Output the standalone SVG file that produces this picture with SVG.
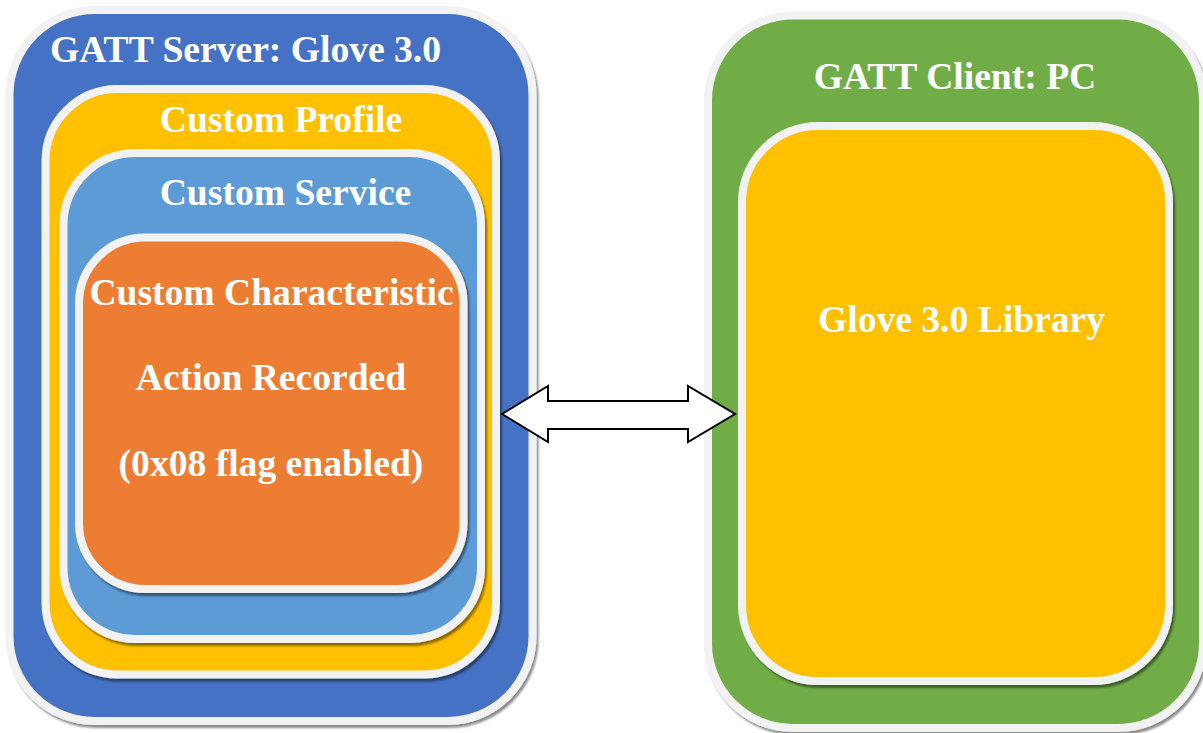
<svg xmlns="http://www.w3.org/2000/svg" width="1203" height="733" viewBox="0 0 1203 733">
  <defs>
    <filter id="sh" x="-5%" y="-5%" width="110%" height="110%">
      <feDropShadow dx="2" dy="3" stdDeviation="0.8" flood-color="#000" flood-opacity="0.45"/>
    </filter>
    <style>
      .box { stroke: #F2F2F2; stroke-width: 8; filter: url(#sh); }
      .t { font-family: "Liberation Serif", "Times New Roman", serif; font-weight: bold; fill: #FFFFFF; font-size: 37.6px; }
      .c { text-anchor: middle; }
    </style>
  </defs>
  <rect width="1203" height="733" fill="#FFFFFF"/>

  <g id="gatt-server">
    <rect class="box" x="9.5" y="10" width="523" height="711" rx="85" ry="85" fill="#4472C4"/>
    <text class="t" x="50" y="62">GATT Server: Glove 3.0</text>
  </g>

  <g id="custom-profile">
    <rect class="box" x="45.5" y="89" width="450.5" height="585.5" rx="72" ry="72" fill="#FFC000"/>
    <text class="t c" x="281" y="132">Custom Profile</text>
  </g>

  <g id="custom-service">
    <rect class="box" x="63.5" y="153" width="417.5" height="486" rx="72" ry="72" fill="#5B9BD5"/>
    <text class="t c" x="285.5" y="205">Custom Service</text>
  </g>

  <g id="custom-characteristic">
    <rect class="box" x="79" y="237.5" width="384.5" height="351.5" rx="66" ry="66" fill="#ED7D31"/>
    <text class="t c" x="271.5" y="305">Custom Characteristic</text>
    <text class="t c" x="271" y="390">Action Recorded</text>
    <text class="t c" x="271" y="476">(0x08 flag enabled)</text>
  </g>

  <g id="gatt-client">
    <rect class="box" x="708" y="15.5" width="495" height="712.5" rx="85" ry="85" fill="#70AD47"/>
    <text class="t c" x="955" y="89">GATT Client: PC</text>
  </g>

  <g id="glove-library">
    <rect class="box" x="742" y="126" width="427" height="555" rx="76" ry="76" fill="#FFC000"/>
    <text class="t c" x="961.5" y="332">Glove 3.0 Library</text>
  </g>

  <g id="connectors">
    <polygon points="502,414 548,386 548,401 688,401 688,386 735,414 688,442 688,429 548,429 548,442" fill="#FFFFFF" stroke="#000000" stroke-width="2" stroke-linejoin="miter"/>
  </g>
</svg>
